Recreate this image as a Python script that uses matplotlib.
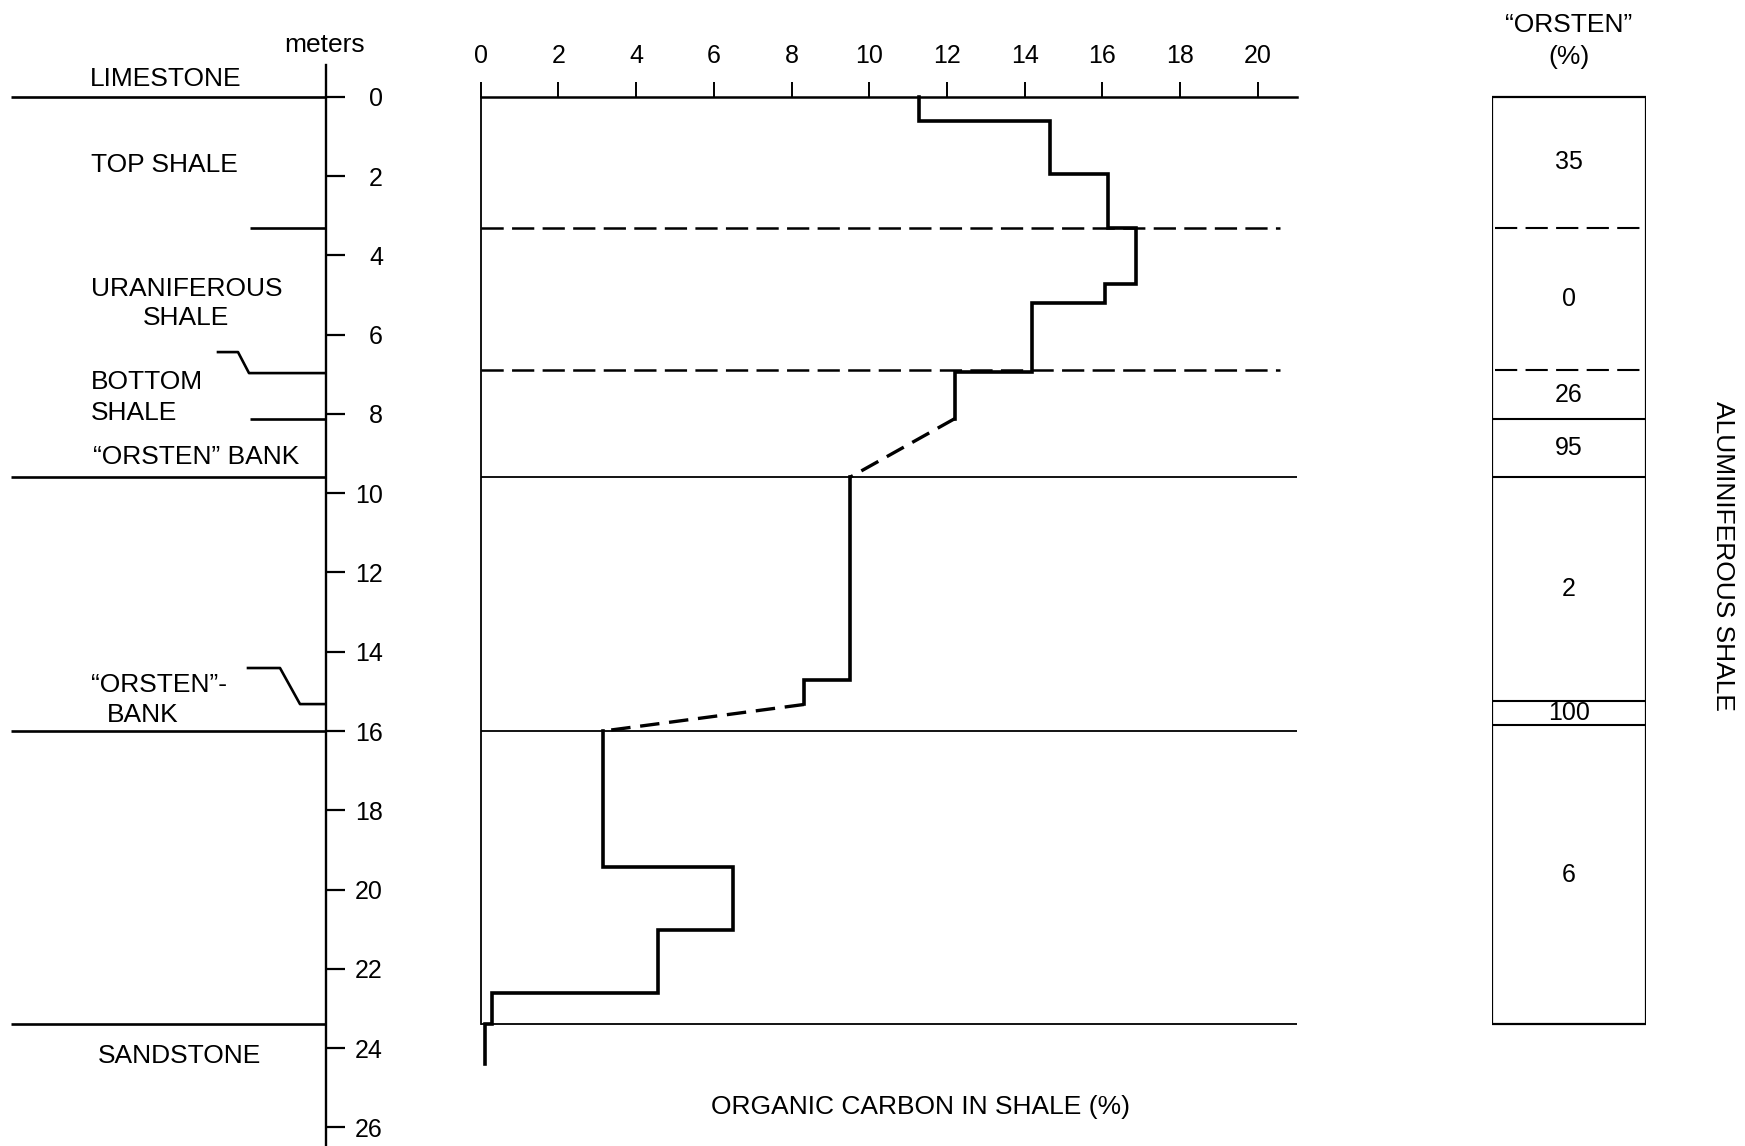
import matplotlib.pyplot as plt

plt.rcParams['font.family'] = ['Liberation Sans', 'DejaVu Sans']
plt.rcParams['lines.scale_dashes'] = False

# organic carbon in shale (%) for each sampled depth interval (m)
carbon = [11.27, 14.65, 16.15, 16.86, 16.06, 14.18, 12.2, 9.5, 8.32, 3.15, 6.5, 4.55, 0.3, 0.12]
top = [0, 0.62, 1.95, 3.3, 4.73, 5.2, 6.93, 9.6, 14.7, 16.0, 19.42, 21.02, 22.62, 23.4]
base = [0.62, 1.95, 3.3, 4.73, 5.2, 6.93, 8.12, 14.7, 15.33, 19.42, 21.02, 22.62, 23.4, 24.4]

# unit contacts (m)
dashed_contacts = [3.3, 6.9]
solid_contacts = [9.6, 16.0, 23.4]
long_contacts = [0, 9.6, 16.0, 23.4]
short_contacts = [3.3, 8.12]

# "orsten" content of each unit
orsten_bounds = [0, 3.3, 6.9, 8.12, 9.6, 15.24, 15.86, 23.4]
orsten_pct = [35, 0, 26, 95, 2, 100, 6]
orsten_dashed = [3.3, 6.9]

carbon_ticks = list(range(0, 21, 2))
depth_ticks = list(range(0, 27, 2))

W, H = 1745, 1146
Y0, PX_PER_M = 96.8, 39.64
DEPTH_LIM = ((H - Y0) / PX_PER_M, -Y0 / PX_PER_M)
FS = 19
DASH = (0, (16, 6))

fig = plt.figure(figsize=(W / 100, H / 100), dpi=100)


def column(left, right):
    ax = fig.add_axes([left / W, 0, (right - left) / W, 1])
    ax.set_ylim(*DEPTH_LIM)
    for s in ax.spines.values():
        s.set_visible(False)
    ax.set_xticks([])
    ax.set_yticks([])
    ax.patch.set_visible(False)
    return ax


# --- stratigraphic column with depth scale ---
ax_s = column(0, 326)
ax_s.set_xlim(0, 326)
ax_s.spines['right'].set_visible(True)
ax_s.spines['right'].set_bounds(-0.8, DEPTH_LIM[0])
ax_s.spines['right'].set_linewidth(1.7)
ax_s.yaxis.tick_right()
ax_s.set_yticks(depth_ticks)
ax_s.tick_params(axis='y', direction='out', length=14, width=1.6, pad=27, labelsize=18)
for lbl in ax_s.get_yticklabels():
    lbl.set_horizontalalignment('right')

ax_s.hlines(long_contacts, 11, 326, color='k', lw=1.9)
ax_s.hlines(short_contacts, 250, 326, color='k', lw=1.9)
for d, x0, x1, x2, rise in [(6.97, 218, 238, 249, 0.53), (15.32, 248, 280, 300, 0.91)]:
    ax_s.plot([x0, x1, x2, 326], [d - rise, d - rise, d, d], color='k', lw=1.9)

ax_s.text(325, -1.13, 'meters', ha='center', va='baseline', fontsize=FS)
ax_s.text(90, -0.27, 'LIMESTONE', ha='left', va='baseline', fontsize=FS)
ax_s.text(91, 1.90, 'TOP SHALE', ha='left', va='baseline', fontsize=FS)
ax_s.text(186.5, 5.03, 'URANIFEROUS', ha='center', va='baseline', fontsize=FS)
ax_s.text(186.5, 5.76, 'SHALE', ha='center', va='baseline', fontsize=FS)
ax_s.text(91, 7.37, 'BOTTOM', ha='left', va='baseline', fontsize=FS)
ax_s.text(91, 8.15, 'SHALE', ha='left', va='baseline', fontsize=FS)
ax_s.text(93, 9.27, '\u201cORSTEN\u201d BANK', ha='left', va='baseline', fontsize=FS)
ax_s.text(91, 15.02, '\u201cORSTEN\u201d-', ha='left', va='baseline', fontsize=FS)
ax_s.text(107, 15.77, 'BANK', ha='left', va='baseline', fontsize=FS)
ax_s.text(179.5, 24.37, 'SANDSTONE', ha='center', va='baseline', fontsize=FS)

# --- organic carbon profile ---
ax_c = column(480.8, 1296.5)
ax_c.set_xlim(0, 21)
ax_c.spines['top'].set_visible(True)
ax_c.spines['top'].set_position(('data', 0))
ax_c.spines['top'].set_linewidth(1.8)
ax_c.spines['left'].set_visible(True)
ax_c.spines['left'].set_bounds(0, 23.4)
ax_c.spines['left'].set_linewidth(1.3)
ax_c.xaxis.tick_top()
ax_c.set_xticks(carbon_ticks)
ax_c.tick_params(axis='x', direction='out', length=11, width=1.4, pad=10, labelsize=18)

ax_c.hlines(dashed_contacts, 0, 20.57, color='k', lw=1.8, linestyles=[DASH])
ax_c.hlines(solid_contacts, 0, 21, color='k', lw=1.3)

# contiguous intervals drawn as steps, gaps bridged with dashed segments
runs = [[0]]
for i in range(1, len(carbon)):
    if abs(top[i] - base[i - 1]) < 1e-9:
        runs[-1].append(i)
    else:
        runs.append([i])
for run in runs:
    xs, ys = [], []
    for i in run:
        xs += [carbon[i], carbon[i]]
        ys += [top[i], base[i]]
    ax_c.plot(xs, ys, color='k', lw=2.6, solid_joinstyle='miter')
for a, b in zip(runs[:-1], runs[1:]):
    i, j = a[-1], b[0]
    ax_c.plot([carbon[i], carbon[j]], [base[i], top[j]], color='k', lw=2.4, ls=(0, (14, 7)))

ax_c.text(11.33, 25.66, 'ORGANIC CARBON IN SHALE (%)', ha='center', va='baseline', fontsize=FS)

# --- "orsten" percentage column ---
ax_o = column(1492, 1646)
ax_o.set_xlim(0, 1)
ax_o.vlines([0, 1], 0, 23.4, color='k', lw=1.6)
ax_o.hlines([0, 23.4], 0, 1, color='k', lw=1.6)
for b in orsten_bounds[1:-1]:
    if b in orsten_dashed:
        ax_o.hlines(b, 0.02, 0.98, color='k', lw=1.5, linestyles=[DASH])
    else:
        ax_o.hlines(b, 0, 1, color='k', lw=1.5)
for lo, hi, pct in zip(orsten_bounds[:-1], orsten_bounds[1:], orsten_pct):
    ax_o.text(0.5, (lo + hi) / 2 + 0.18, str(pct), ha='center', va='baseline', fontsize=18)

ax_o.text(0.5, -1.63, '\u201cORSTEN\u201d', ha='center', va='baseline', fontsize=FS)
ax_o.text(0.5, -0.84, '(%)', ha='center', va='baseline', fontsize=FS)

fig.text(1723 / W, 1 - 556 / H, 'ALUMINIFEROUS SHALE', rotation=270,
         ha='center', va='center', fontsize=FS)

fig.savefig('out.png', dpi=100)
